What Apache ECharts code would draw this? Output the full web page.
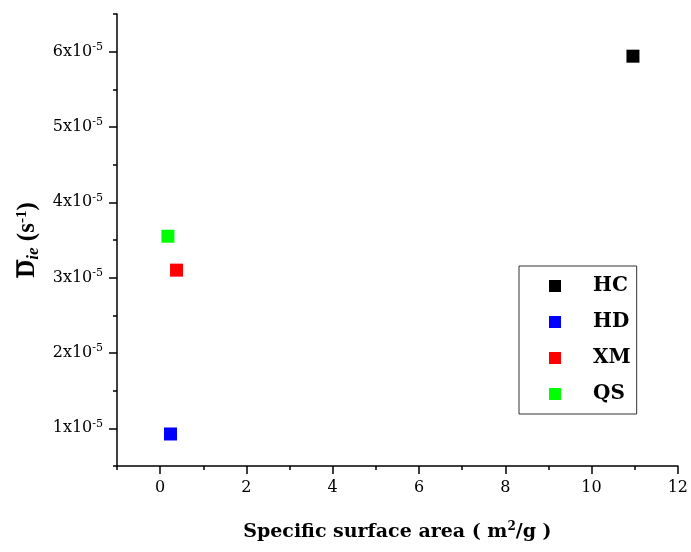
<!DOCTYPE html>
<html>
<head>
<meta charset="utf-8">
<script src="https://cdn.jsdelivr.net/npm/echarts@6/dist/echarts.min.js"></script>
<style>html,body{margin:0;padding:0;background:#fff}#c{width:691px;height:552px}</style>
</head>
<body>
<div id="c"></div>
<script>
var seriesNames = ['HC', 'HD', 'XM', 'QS'];
var seriesColors = ['#000000', '#0000ff', '#ff0000', '#00ff00'];
var surfaceArea = [10.96, 0.24, 0.38, 0.18];
var diffusion = [5.94e-5, 0.925e-5, 3.10e-5, 3.55e-5];
var xTickLabels = [0, 2, 4, 6, 8, 10, 12];
var yTickLabels = [1e-5, 2e-5, 3e-5, 4e-5, 5e-5, 6e-5];

var FONT = 'DejaVu Serif';
var TFONT = 'Liberation Serif';
var chart = echarts.init(document.getElementById('c'), null, {renderer: 'canvas'});
var lineStyle = {color: '#000', width: 1.5};

// overline decoration for the D symbol (stretched over the token box)
var ov = document.createElement('canvas');
ov.width = 10; ov.height = 26;
var octx = ov.getContext('2d');
octx.fillStyle = '#000';
octx.fillRect(0, 1, 10, 2);

var series = seriesNames.map(function (n, i) {
  return {
    name: n, type: 'scatter', symbol: 'rect', symbolSize: 13,
    xAxisIndex: 0, yAxisIndex: 0,
    itemStyle: {color: seriesColors[i], opacity: 1},
    emphasis: {disabled: true},
    data: [[surfaceArea[i], diffusion[i]]]
  };
});

chart.setOption({
  animation: false,
  backgroundColor: '#fff',
  grid: {left: 117, right: 9, top: 14, bottom: 86, containLabel: false},
  legend: {
    orient: 'vertical', left: 519, top: 266,
    icon: 'rect', itemWidth: 12, itemHeight: 12, itemGap: 16,
    borderColor: '#333', borderWidth: 1, padding: [10, 6, 10, 30],
    data: seriesNames,
    formatter: function (n) { return '{a|' + n + '}'; },
    textStyle: {
      rich: {a: {fontFamily: FONT, fontWeight: 'bold', fontSize: 20, color: '#000', lineHeight: 20, padding: [0, 0, 0, 27]}}
    }
  },
  xAxis: [{
    type: 'value', position: 'bottom', min: -1, max: 12, interval: 1,
    axisLine: {show: true, onZero: false, lineStyle: lineStyle},
    axisTick: {show: true, length: 4, lineStyle: lineStyle},
    splitLine: {show: false},
    axisLabel: {customValues: xTickLabels, margin: 14, fontFamily: FONT, fontSize: 16, color: '#000'},
    name: '{b|Specific surface area ( m}{sup|2}{b|/g )}',
    nameLocation: 'middle', nameGap: 55,
    nameTextStyle: {
      rich: {
        b: {fontFamily: FONT, fontWeight: 'bold', fontSize: 19, color: '#000'},
        sup: {fontFamily: FONT, fontWeight: 'bold', fontSize: 12, color: '#000', padding: [0, 0, 11, 0]}
      }
    }
  }, {
    type: 'value', position: 'bottom', offset: 0, min: -1, max: 12, interval: 1,
    axisLine: {show: false, onZero: false},
    axisTick: {show: true, length: 8, customValues: xTickLabels, lineStyle: lineStyle},
    axisLabel: {show: false}, splitLine: {show: false}
  }],
  yAxis: [{
    type: 'value', position: 'left', min: 0.5e-5, max: 6.5e-5, interval: 0.5e-5,
    axisLine: {show: true, onZero: false, lineStyle: lineStyle},
    axisTick: {show: true, length: 4, lineStyle: lineStyle},
    splitLine: {show: false},
    axisLabel: {
      customValues: yTickLabels, margin: 14,
      formatter: function (v) { return '{n|' + Math.round(v / 1e-5) + 'x10}{sup|-5}'; },
      rich: {
        n: {fontFamily: FONT, fontSize: 16, color: '#000'},
        sup: {fontFamily: FONT, fontSize: 11, color: '#000', padding: [0, 0, 9, 0]}
      }
    },
    name: '{d|D}{sub|ie}{t| (s}{sup|-1}{t|)}',
    nameLocation: 'middle', nameGap: 66, nameRotate: 90,
    nameTextStyle: {
      rich: {
        d: {fontFamily: TFONT, fontWeight: 'bold', fontSize: 25, lineHeight: 26, color: '#000',
            backgroundColor: {image: ov}},
        t: {fontFamily: TFONT, fontWeight: 'bold', fontSize: 25, color: '#000'},
        sub: {fontFamily: TFONT, fontWeight: 'bold', fontStyle: 'italic', fontSize: 17, color: '#000', padding: [11, 0, 0, 0]},
        sup: {fontFamily: TFONT, fontWeight: 'bold', fontSize: 15, color: '#000', padding: [0, 0, 11, 0]}
      }
    }
  }, {
    type: 'value', position: 'left', offset: 0, min: 0.5e-5, max: 6.5e-5, interval: 0.5e-5,
    axisLine: {show: false, onZero: false},
    axisTick: {show: true, length: 8, customValues: yTickLabels, lineStyle: lineStyle},
    axisLabel: {show: false}, splitLine: {show: false}
  }],
  series: series
});
</script>
</body>
</html>
